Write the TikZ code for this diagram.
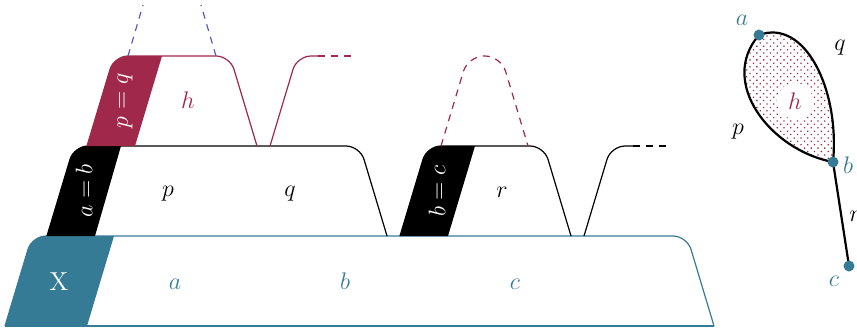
\documentclass[tikz,border=0pt]{standalone}
\usepackage{tikz}
\usetikzlibrary{patterns.meta,backgrounds}
\definecolor{steel}{RGB}{54,123,150}
\definecolor{wine}{RGB}{160,40,75}
\definecolor{ghost}{RGB}{90,90,190}

\begin{document}
\begin{tikzpicture}[
  x=0.5pt, y=-0.5pt,
  font=\fontsize{13}{15}\selectfont,
  level/.style={line width=0.6pt,rounded corners=7pt},
  ghostdash/.style={line width=0.6pt,dash pattern=on 3.5pt off 3pt},
  lbl/.style={anchor=base,inner sep=0pt},
  tag/.style={white,rotate=90,inner sep=0pt},
  dot/.style={circle,fill=steel,inner sep=0pt,minimum size=5.5pt},
  gline/.style={line width=1.1pt}]
  \useasboundingbox (0,0) rectangle (857,328);
  % base level
  \fill[steel] (5,326) [rounded corners=7pt] -- (32,236) [sharp corners] -- (114,236) -- (87,326) -- cycle;
  \draw[steel,level] (5,326) -- (32,236) -- (687,236) -- (714,326);
  \draw[steel,line width=0.6pt] (5,326) -- (714,326);
  \node[lbl,white] (X) at (59,290) {X};
  \node[lbl,text=steel] (la) at (175,289) {$a$};
  \node[lbl,text=steel] (lb) at (345,289) {$b$};
  \node[lbl,text=steel] (lc) at (515,289) {$c$};
  % middle level
  \fill (47,236) [rounded corners=7pt] -- (74,146) [sharp corners] -- (121,146) -- (95,236) -- cycle;
  \draw[level] (47,236) -- (74,146) -- (360,146) -- (387,236);
  \node[tag] (ab) at (84,191) {$a = b$};
  \node[lbl] (lp) at (168,196) {$p$};
  \node[lbl] (lq) at (290,196) {$q$};
  \fill (400,236) [rounded corners=7pt] -- (427,146) [sharp corners] -- (475,146) -- (448,236) -- cycle;
  \draw[level] (400,236) -- (427,146) -- (544,146) -- (571,236);
  \node[tag] (bc) at (437,191) {$b = c$};
  \node[lbl] (lr) at (502,197) {$r$};
  \draw[level] (584,236) -- (611,146) -- (633,146);
  \draw[ghostdash] (633,146) -- (666,146);
  % top level
  \fill[wine] (87,146) [rounded corners=7pt] -- (114,56) [sharp corners] -- (162,56) -- (135,146) -- cycle;
  \draw[wine,level] (87,146) -- (114,56) -- (230,56) -- (257,146);
  \node[tag] (pq) at (125,101) {$p = q$};
  \node[lbl,text=wine] (lh) at (188,108) {$h$};
  \draw[wine,level] (270,146) -- (297,56) -- (318,56);
  \draw[wine,ghostdash] (318,56) -- (352,56);
  \draw[ghost,ghostdash] (128,56) -- (143,5);
  \draw[ghost,ghostdash] (216,56) -- (201,5);
  \draw[wine,level,rounded corners=8pt,ghostdash] (441,146) -- (468,56) -- (501,56) -- (528,146);
  % graph
  \node[dot] (a) at (759,35) {};
  \node[dot] (b) at (833,162) {};
  \node[dot] (c) at (849,266) {};
  \begin{scope}[on background layer]
    \draw[gline,pattern={Dots[radius=0.45pt,distance=2.4pt,angle=45]},pattern color=wine]
      (a.center) .. controls (805,18) and (840,90) .. (b.center)
      .. controls (770,150) and (718,82) .. (a.center) -- cycle;
    \draw[gline] (b.center) -- (c.center);
  \end{scope}
  \node[circle,fill=white,inner sep=0pt,minimum size=18pt,text=wine] (hh) at (795,101) {$h$};
  \node[text=steel] (na) at (742,20) {$a$};
  \node[text=steel] (nb) at (848,165) {$b$};
  \node[text=steel] (nc) at (834,281) {$c$};
  \node (nq) at (840,48) {$q$};
  \node (np) at (738,132) {$p$};
  \node (nr) at (855,216) {$r$};
\end{tikzpicture}
\end{document}
